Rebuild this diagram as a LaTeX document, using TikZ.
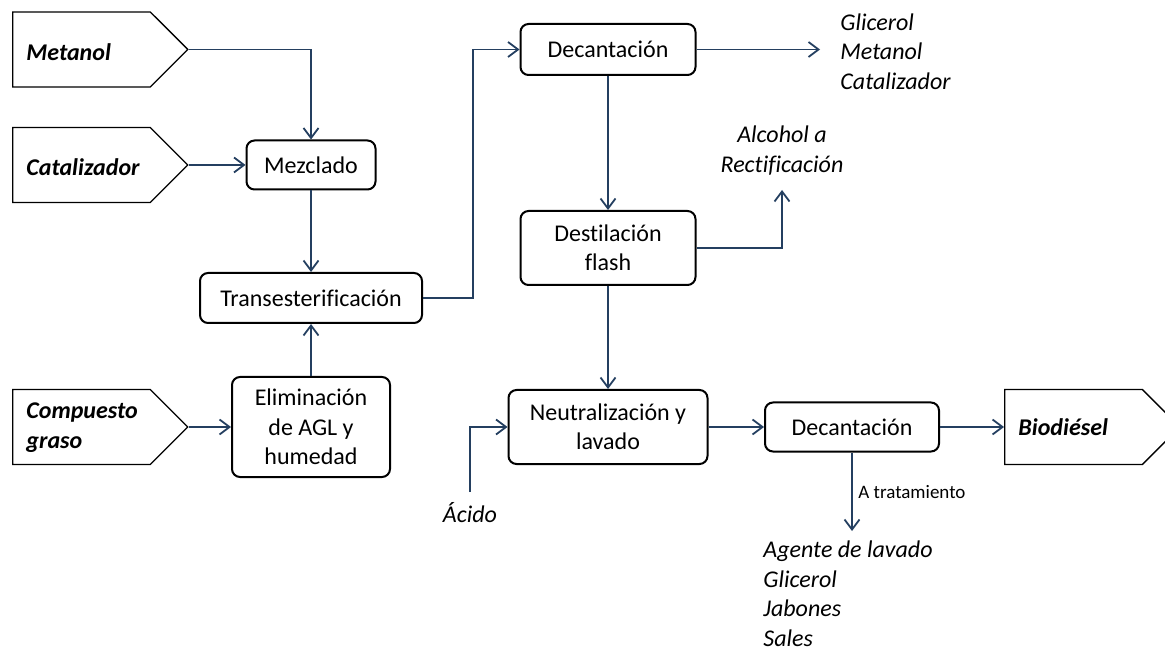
\documentclass[tikz,border=0pt]{standalone}
\usepackage{fontspec}
\setmainfont{Carlito}[Ligatures=NoCommon]
\usetikzlibrary{arrows.meta,shapes.symbols}
\definecolor{flow}{HTML}{243F60}
\tikzset{
  unit/.style={draw=black, line width=1pt, rounded corners=4pt, align=center,
    inner sep=0pt, font=\fontsize{12}{14.75}\selectfont},
  feed/.style={draw=black, line width=0.7pt, signal, signal to=east, signal from=nowhere,
    signal pointer angle=90, minimum width=87.5pt, minimum height=37.5pt, inner sep=0pt},
  feedtxt/.style={anchor=west, align=left, inner sep=0pt,
    font=\fontsize{12}{14.75}\selectfont\bfseries\itshape},
  outtxt/.style={align=left, inner sep=0pt, font=\fontsize{12}{14.75}\selectfont\itshape},
  stream/.style={draw=flow, line width=0.9pt, -{Straight Barb[length=5pt,width=7.5pt,line width=0.9pt]}}
}
\begin{document}
\begin{tikzpicture}[x=0.5pt, y=-0.5pt]
\useasboundingbox (0,0) rectangle (1165,651);
\clip (0,0) rectangle (1165,651);

% raw material and product tags
\node[feed] (met) at (81.5,49.5) {};
\node[feed] (cat) at (81.5,165) {};
\node[feed] (com) at (81.5,427) {};
\node[feed] (bio) at (1073.5,427) {};
\node[feedtxt] (metT) at (26,52) {Metanol};
\node[feedtxt] (catT) at (26,167) {Catalizador};
\node[feedtxt] (comT) at (26,427.5) {Compuesto\\graso};
\node[feedtxt] (bioT) at (1018,427) {Biodiésel};

% process units
\node[unit, minimum width=64.5pt, minimum height=24.5pt] (mez) at (311,165) {Mezclado};
\node[unit, minimum width=111pt, minimum height=25pt] (tra) at (311,298) {Transesterificación};
\node[unit, minimum width=79pt, minimum height=50pt] (eli) at (311,427) {Eliminación\\de AGL y\\humedad};
\node[unit, minimum width=87.5pt, minimum height=25.5pt] (dec1) at (608,49.5) {Decantación};
\node[unit, minimum width=87.5pt, minimum height=37pt] (des) at (608,248) {Destilación\\flash};
\node[unit, minimum width=99.5pt, minimum height=37pt] (neu) at (608,427) {Neutralización y\\lavado};
\node[unit, minimum width=87pt, minimum height=24.5pt] (dec2) at (852,427) {Decantación};

% free ends of side streams
\coordinate (out1) at (820,49.5);
\coordinate (alc) at (782,190);
\coordinate (acid) at (470,492);
\coordinate (trat) at (852,531);

% side stream labels
\node[outtxt, anchor=west] (out1T) at (840,51.5) {Glicerol\\Metanol\\Catalizador};
\node[outtxt, align=center] (alcT) at (782,150.5) {Alcohol a\\Rectificación};
\node[outtxt] (acidT) at (470,513) {Ácido};
\node[outtxt, anchor=west] (tratT) at (763,594) {Agente de lavado\\Glicerol\\Jabones\\Sales};
\node[anchor=west, inner sep=0pt, font=\fontsize{9.5}{11}\selectfont] (tratL) at (858,492) {A tratamiento};

% streams
\draw[stream] (met.east) -| (mez.north);
\draw[stream] (cat.east) -- (mez.west);
\draw[stream] (mez.south) -- (tra.north);
\draw[stream] (eli.north) -- (tra.south);
\draw[stream] (com.east) -- (eli.west);
\draw[stream] (tra.east) -- ++(50,0) |- (dec1.west);
\draw[stream] (dec1.east) -- (out1);
\draw[stream] (dec1.south) -- (des.north);
\draw[stream] (des.east) -| (alc);
\draw[stream] (des.south) -- (neu.north);
\draw[stream] (acid) |- (neu.west);
\draw[stream] (neu.east) -- (dec2.west);
\draw[stream] (dec2.east) -- (bio.west);
\draw[stream] (dec2.south) -- (trat);
\end{tikzpicture}
\end{document}
